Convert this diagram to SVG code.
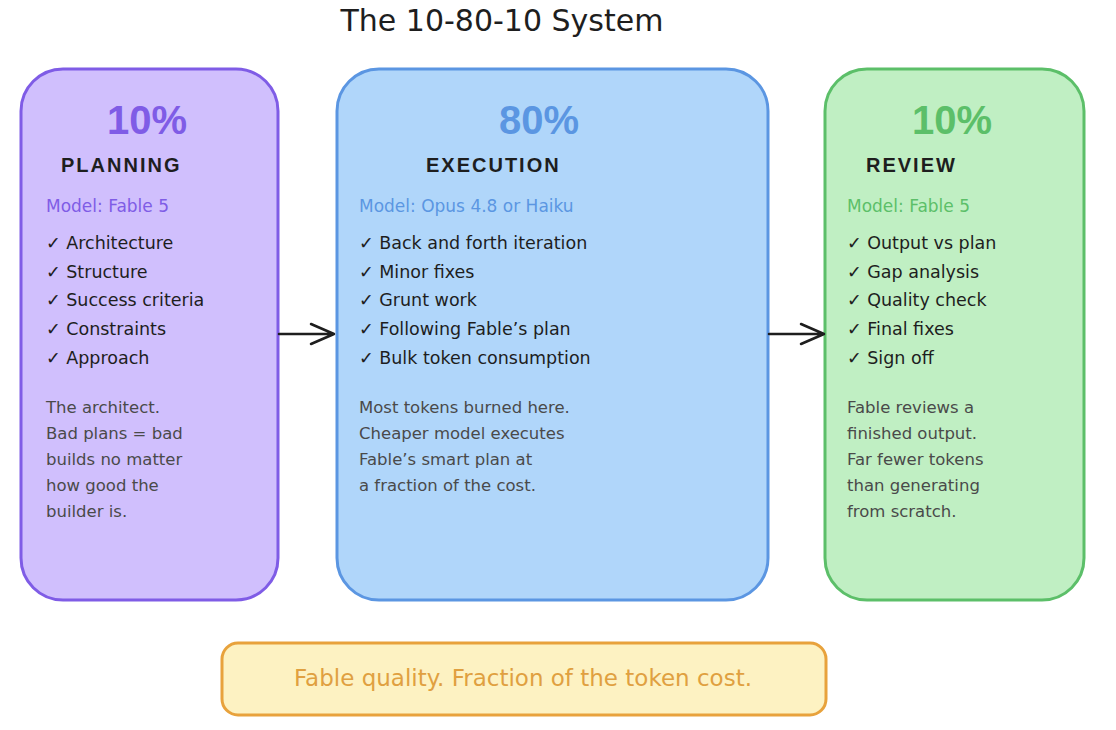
<svg xmlns="http://www.w3.org/2000/svg" width="1116" height="730" viewBox="0 0 1116 730">
<defs>
<style>
text{font-family:"DejaVu Sans","Liberation Sans",sans-serif}
.title{font-size:30px;fill:#1e1e1e}
.pct{font-family:"Liberation Sans",Arial,sans-serif;font-size:40px;font-weight:bold;text-anchor:middle}
.head{font-family:"Liberation Sans",Arial,sans-serif;font-size:20px;font-weight:bold;fill:#1e1e1e;letter-spacing:2px}
.model{font-size:17px}
.item{font-size:17.5px;fill:#1e1e1e}
.para{font-size:16.5px;fill:#4a4a4a}
.conn{stroke:#1e1e1e;stroke-width:2.5;fill:none;stroke-linecap:round;stroke-linejoin:round}
</style>
</defs>
<rect width="1116" height="730" fill="#ffffff"/>
<text class="title" x="502" y="31" text-anchor="middle">The 10-80-10 System</text>

<g id="planning">
<rect x="21" y="69" width="257" height="531" rx="42" fill="#d0bffd" stroke="#7f5ce6" stroke-width="3"/>
<text class="pct" x="147" y="134" fill="#7f5ce6">10%</text>
<text class="head" x="61" y="172">PLANNING</text>
<text class="model" x="46" y="212" fill="#7f5ce6">Model: Fable 5</text>
<text class="item" x="46" y="249">✓ Architecture</text>
<text class="item" x="46" y="278">✓ Structure</text>
<text class="item" x="46" y="306">✓ Success criteria</text>
<text class="item" x="46" y="335">✓ Constraints</text>
<text class="item" x="46" y="364">✓ Approach</text>
<text class="para" x="46" y="413">The architect.</text>
<text class="para" x="46" y="439">Bad plans = bad</text>
<text class="para" x="46" y="465">builds no matter</text>
<text class="para" x="46" y="491">how good the</text>
<text class="para" x="46" y="517">builder is.</text>
</g>

<g id="execution">
<rect x="337" y="69" width="431" height="531" rx="42" fill="#b0d6fa" stroke="#5b96e2" stroke-width="3"/>
<text class="pct" x="539" y="134" fill="#5b96e2">80%</text>
<text class="head" x="426" y="172" letter-spacing="2.8">EXECUTION</text>
<text class="model" x="359" y="212" fill="#5b96e2">Model: Opus 4.8 or Haiku</text>
<text class="item" x="359" y="249">✓ Back and forth iteration</text>
<text class="item" x="359" y="278">✓ Minor fixes</text>
<text class="item" x="359" y="306">✓ Grunt work</text>
<text class="item" x="359" y="335">✓ Following Fable’s plan</text>
<text class="item" x="359" y="364">✓ Bulk token consumption</text>
<text class="para" x="359" y="413">Most tokens burned here.</text>
<text class="para" x="359" y="439">Cheaper model executes</text>
<text class="para" x="359" y="465">Fable’s smart plan at</text>
<text class="para" x="359" y="491">a fraction of the cost.</text>
</g>

<g id="review">
<rect x="825" y="69" width="259" height="531" rx="42" fill="#c0efc3" stroke="#5cbf69" stroke-width="3"/>
<text class="pct" x="952" y="134" fill="#5cbf69">10%</text>
<text class="head" x="866" y="172">REVIEW</text>
<text class="model" x="847" y="212" fill="#5cbf69">Model: Fable 5</text>
<text class="item" x="847" y="249">✓ Output vs plan</text>
<text class="item" x="847" y="278">✓ Gap analysis</text>
<text class="item" x="847" y="306">✓ Quality check</text>
<text class="item" x="847" y="335">✓ Final fixes</text>
<text class="item" x="847" y="364">✓ Sign off</text>
<text class="para" x="847" y="413">Fable reviews a</text>
<text class="para" x="847" y="439">finished output.</text>
<text class="para" x="847" y="465">Far fewer tokens</text>
<text class="para" x="847" y="491">than generating</text>
<text class="para" x="847" y="517">from scratch.</text>
</g>

<g id="summary">
<rect x="222" y="643" width="604" height="72" rx="16" fill="#fdf2c2" stroke="#e8a23c" stroke-width="3"/>
<text x="523" y="686" text-anchor="middle" font-size="23" fill="#e0a040">Fable quality. Fraction of the token cost.</text>
</g>

<g id="connectors">
<path class="conn" d="M279 334 L334 334 M311 324 L334 334 L311 344"/>
<path class="conn" d="M769 334 L824 334 M801 324 L824 334 L801 344"/>
</g>
</svg>
